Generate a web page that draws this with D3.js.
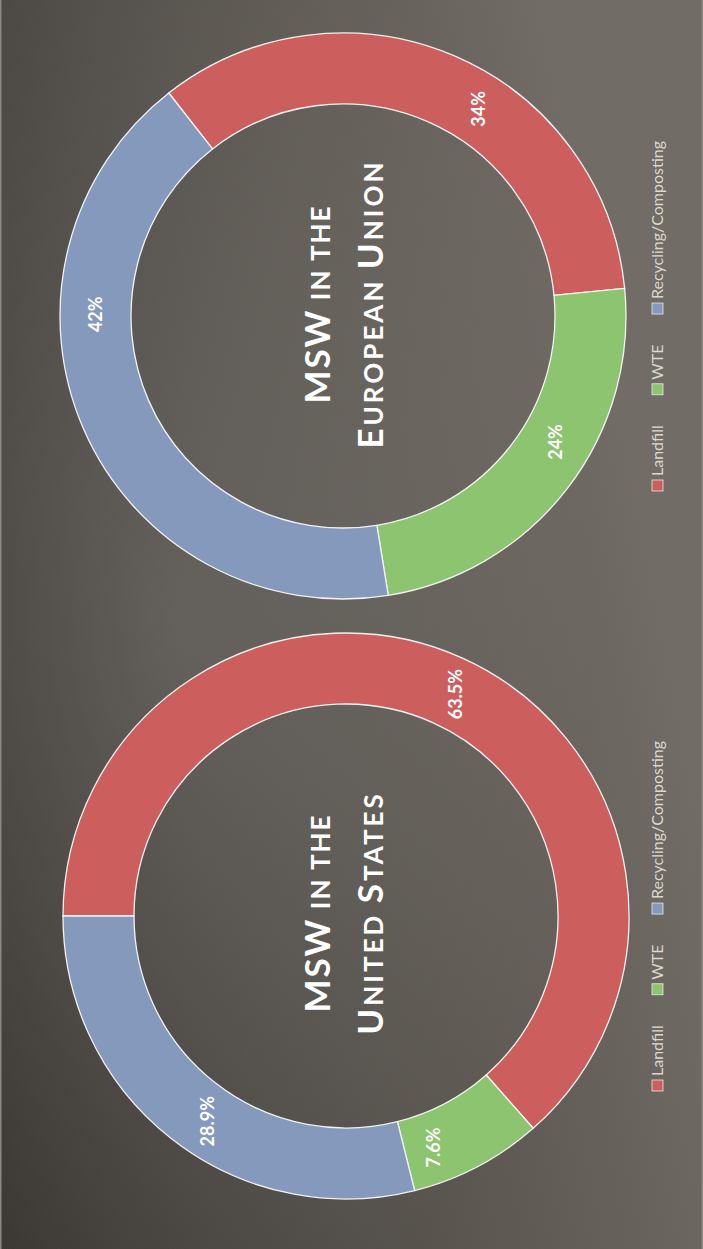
<!DOCTYPE html>
<html>
<head>
<meta charset="utf-8">
<script src="https://cdn.jsdelivr.net/npm/d3@7"></script>
<style>
  body { margin: 0; background: #4a4641; }
  svg { display: block; }
</style>
</head>
<body>
<div id="chart"></div>
<script>
var svgWidth = 703;
var svgHeight = 1249;

// the slide is laid out landscape, then turned a quarter turn to the left
var slideW = 1249;
var slideH = 703;

// data
var categories = ["Landfill", "WTE", "Recycling/Composting"];
var colors = ["#cd5e5e", "#8cc46f", "#8599bc"];
var usValues = [63.5, 7.6, 28.9];
var usLabels = ["63.5%", "7.6%", "28.9%"];
var euValues = [34, 24, 42];
var euLabels = ["34%", "24%", "42%"];

// label placement tweaks (degrees along the ring), the slide had them moved by hand
var usLabelTurn = [2, 7, -4];
var euLabelTurn = [10, -7, 24];

var svg = d3.select("#chart")
  .append("svg")
  .attr("width", svgWidth)
  .attr("height", svgHeight);

var defs = svg.append("defs");

var bg = defs.append("linearGradient")
  .attr("id", "bg")
  .attr("x1", 0).attr("y1", 0)
  .attr("x2", 0.35).attr("y2", 1);
bg.append("stop").attr("offset", "0%").attr("stop-color", "#3a3632");
bg.append("stop").attr("offset", "100%").attr("stop-color", "#716c65");

var glow = defs.append("radialGradient")
  .attr("id", "glow")
  .attr("cx", 0.5).attr("cy", 0.25).attr("r", 0.6);
glow.append("stop").attr("offset", "0%").attr("stop-color", "#ffffff").attr("stop-opacity", 0.12);
glow.append("stop").attr("offset", "100%").attr("stop-color", "#ffffff").attr("stop-opacity", 0);

// slide group (landscape coords)
var slide = svg.append("g")
  .attr("transform", `translate(0, ${svgHeight}) rotate(-90)`);

slide.append("rect")
  .attr("width", slideW).attr("height", slideH)
  .attr("fill", "url(#bg)");
slide.append("rect")
  .attr("width", slideW).attr("height", slideH)
  .attr("fill", "url(#glow)");

// thin light edges
slide.append("rect").attr("x", 0).attr("y", 0).attr("width", slideW).attr("height", 1.5).attr("fill", "#8c8881");
slide.append("rect").attr("x", 0).attr("y", slideH - 1.5).attr("width", slideW).attr("height", 1.5).attr("fill", "#8c8881");

var outerR = 283;
var innerR = 212;
var midR = (innerR + outerR) / 2;

var arc = d3.arc().innerRadius(innerR).outerRadius(outerR);

function drawDonut(cx, cy, titleX, values, labels, turns, startDeg, titleLines) {
  var g = slide.append("g").attr("transform", `translate(${cx}, ${cy})`);

  var start = startDeg * Math.PI / 180;
  var pie = d3.pie().sort(null)
    .startAngle(start)
    .endAngle(start + 2 * Math.PI);

  var arcs = pie(values);

  g.selectAll("path")
    .data(arcs)
    .enter()
    .append("path")
    .attr("d", arc)
    .attr("fill", (d, i) => colors[i])
    .attr("stroke", "#f2f2f2")
    .attr("stroke-width", 1.3);

  g.selectAll(".lbl")
    .data(arcs)
    .enter()
    .append("text")
    .attr("class", "lbl")
    .attr("transform", function(d, i) {
      var a = (d.startAngle + d.endAngle) / 2 + turns[i] * Math.PI / 180;
      return `translate(${midR * Math.sin(a)}, ${-midR * Math.cos(a)})`;
    })
    .attr("text-anchor", "middle")
    .attr("dy", "0.35em")
    .attr("fill", "#ffffff")
    .attr("font-family", "Lato, sans-serif")
    .attr("font-weight", "bold")
    .attr("font-size", "18px")
    .text((d, i) => labels[i]);

  // title in small caps
  titleLines.forEach(function(line, li) {
    var t = slide.append("text")
      .attr("x", titleX)
      .attr("y", li === 0 ? 330 : 383)
      .attr("text-anchor", "middle")
      .attr("fill", "#ffffff")
      .attr("font-family", "Lato, sans-serif")
      .attr("font-weight", "bold")
      .attr("letter-spacing", li === 0 ? "2px" : "3px");
    line.forEach(function(part) {
      t.append("tspan")
        .attr("font-size", part[1] ? "35px" : "26px")
        .text(part[0]);
    });
  });

  // legend under the donut, three entries spread over a fixed width
  var legendW = 350;
  var legend = slide.append("g");
  var items = [];
  var textW = 0;
  categories.forEach(function(c, i) {
    var item = legend.append("g");
    item.append("rect")
      .attr("x", 0).attr("y", -6)
      .attr("width", 11).attr("height", 11)
      .attr("fill", colors[i])
      .attr("stroke", "#e8e8e8")
      .attr("stroke-width", 0.8);
    var txt = item.append("text")
      .attr("x", 15)
      .attr("y", 5)
      .attr("fill", "#dcd8d0")
      .attr("font-family", "Lato, sans-serif")
      .attr("font-size", "16px")
      .text(c);
    var w = 15 + txt.node().getComputedTextLength();
    textW += w;
    items.push({ item: item, w: w });
  });
  var gap = (legendW - textW) / (items.length - 1);
  var xPos = cx - legendW / 2;
  items.forEach(function(it) {
    it.item.attr("transform", `translate(${xPos}, 658)`);
    xPos += it.w + gap;
  });
}

drawDonut(333, 346, 336, usValues, usLabels, usLabelTurn, 0, [
  [["MSW", true], [" IN THE", false]],
  [["U", true], ["NITED ", false], ["S", true], ["TATES", false]]
]);

drawDonut(933, 343, 945, euValues, euLabels, euLabelTurn, 52, [
  [["MSW", true], [" IN THE", false]],
  [["E", true], ["UROPEAN ", false], ["U", true], ["NION", false]]
]);
</script>
</body>
</html>
